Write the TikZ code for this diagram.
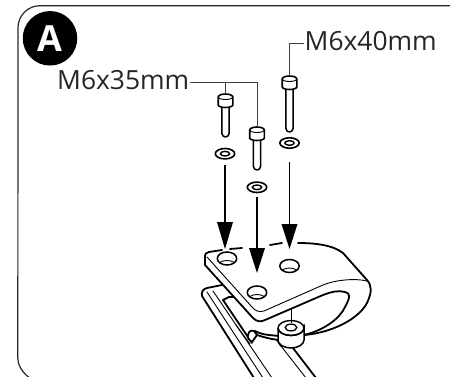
\documentclass[tikz,border=0pt]{standalone}
\usepackage{fontspec}
\setmainfont{Open Sans}
\tikzset{
  px/.style={x=1pt,y=-1pt},
  heavy/.style={line width=1.8pt,line join=round,line cap=round},
  thin1/.style={line width=0.9pt,line join=round,line cap=round},
  leader/.style={line width=0.75pt,draw=black!75},
  shaft/.style={line width=1.8pt},
  head/.style={fill=black,draw=none},
  lab/.style={font=\fontsize{26.4}{27}\selectfont,text=black!85,inner sep=0pt,anchor=base west}
}
\newcommand{\bolt}[3]{%
  \begin{scope}[shift={(#1,#2)}]
    \draw[line width=1.5pt,fill=white,line join=round] (-3.6,10) -- (-3.6,#3-3.6) arc[start angle=180,end angle=0,radius=3.6] -- (3.6,10);
    \draw[line width=1.6pt,fill=white,line join=round] (-7.3,3) arc[start angle=180,end angle=360,x radius=7.3,y radius=3] -- (7.3,11) arc[start angle=0,end angle=180,x radius=7.3,y radius=2.5] -- cycle;
    \draw[line width=0.9pt] (-7.3,3) arc[start angle=180,end angle=0,x radius=7.3,y radius=2.5];
  \end{scope}
}
\newcommand{\washer}[2]{%
  \draw[line width=1.6pt,fill=white] (#1,#2) ellipse[x radius=9.7,y radius=5.2];
  \draw[line width=1.4pt] (#1,#2) ellipse[x radius=4.6,y radius=2.3];
}
\newcommand{\hole}[2]{%
  \draw[line width=1.5pt,fill=white] (#1,#2) ellipse[x radius=9.7,y radius=6.5];
  \begin{scope}
    \clip (#1,#2) ellipse[x radius=9.7,y radius=6.5];
    \draw[line width=0.9pt] (#1,#2+7.5) ellipse[x radius=9,y radius=5.5];
  \end{scope}
}
\begin{document}
\begin{tikzpicture}[px]
\useasboundingbox (0,0) rectangle (450,377);
\clip (0,0) rectangle (450,377);
% frame
\draw[line width=1.2pt,draw=black!85] (450,5.7) -- (40,5.7) arc[start angle=270,end angle=180,radius=22] -- (17.8,358) .. controls (17.8,365) and (22,372) .. (29,377.5);
% badge
\node[circle,fill=black,minimum size=54.5pt,inner sep=0pt] (badge) at (50,38.3) {};
\node[font=\fontsize{36}{36}\selectfont\bfseries,text=white,inner sep=0pt] (badgeA) at (50,38.5) {A};
% labels
\node[lab] (m35) at (57,90) {M6x35mm};
\node[lab] (m40) at (304.5,51) {M6x40mm};
% bracket
\draw[heavy] (222,285) -- (207,288) .. controls (203,289) and (201,292) .. (202,296) -- (254,378);
\draw[thin1] (207,292) -- (263,378);
\draw[thin1] (213,291) -- (272,378);
\draw[heavy] (241,297) -- (229,297) -- (223,300) -- (252,343);
\draw[thin1] (236,325) -- (250,344);
% lip
\draw[heavy,fill=white] (252,342) .. controls (249,340) and (247,337) .. (248,335) .. controls (249,331) and (251,330) .. (254,331) -- (257,335) -- cycle;
\draw[heavy] (255,331) .. controls (262,335) and (270,335) .. (279,336);
\draw[heavy] (257,335) .. controls (263,337) and (270,339) .. (279,340);
% rails under the nut
\draw[heavy] (277,340) -- (281,346);
\draw[thin1] (281,346) -- (306,378);
\draw[heavy] (293,348) -- (316,378);
% clamp plate
\fill[white] (208,252) -- (298,243) .. controls (315,243) and (333,245) .. (343,253) -- (367,280) .. controls (372,286) and (372,292) .. (367,303) .. controls (358,320) and (330,333) .. (304,335) .. controls (325,330) and (340,318) .. (345,307) .. controls (350,298) and (351,293) .. (345,292) .. controls (338,290) and (331,292) .. (323,295) -- (265,320) .. controls (261,322) and (257,322) .. (253,318) -- (205,265) -- (205,255) -- cycle;
\draw[heavy] (222,250) -- (209,252) .. controls (206,252.5) and (205,254) .. (205,256) -- (205,265) -- (253,318) .. controls (257,322) and (261,322) .. (265,320) -- (323,295) .. controls (331,292) and (338,290) .. (345,292) .. controls (351,293) and (350,298) .. (345,307) .. controls (340,318) and (325,330) .. (304,335);
\draw[heavy] (298,243) .. controls (315,243) and (333,245) .. (343,253) -- (367,280) .. controls (372,286) and (372,292) .. (367,303) .. controls (358,320) and (330,333) .. (304,335);
\draw[heavy] (230,249) -- (242,248);
\draw[heavy] (270,245) -- (282,243);
\draw[thin1] (207,257) -- (252,307) .. controls (256,312) and (260,312) .. (264,311) -- (323,285) .. controls (335,280) and (355,278) .. (367,281);
\hole{227}{258.5}
\hole{289.5}{266}
\hole{257}{292.5}
% nut
\draw[line width=1pt] (291,308) -- (291,323);
\draw[line width=1.5pt,fill=white] (278,328) -- (278,340) arc[start angle=180,end angle=0,x radius=13,y radius=8] -- (304,328) arc[start angle=0,end angle=180,x radius=13,y radius=7.5];
\draw[line width=1.4pt] (291,328) ellipse[x radius=13,y radius=7.5];
\draw[line width=1.3pt] (291,327.5) ellipse[x radius=5.8,y radius=3.4];
% bolts
\bolt{225.5}{94}{43}
\bolt{257}{127}{43}
\bolt{289.5}{76}{56}
% washers
\washer{225}{153.7}
\washer{257}{187.3}
\washer{289.5}{143}
% arrows
\coordinate (a1s) at (225,165); \coordinate (a1) at (225,249);
\coordinate (a2s) at (257,197); \coordinate (a2) at (257,273);
\coordinate (a3s) at (289.5,162); \coordinate (a3) at (289.5,249);
\draw[shaft] (a1s) -- (225,225);
\fill[head] (217,222) -- (233,222) -- (a1) -- cycle;
\draw[shaft] (a2s) -- (257,250);
\fill[head] (249,248) -- (265,248) -- (a2) -- cycle;
\draw[shaft] (a3s) -- (289.5,226);
\fill[head] (281.5,224) -- (297.5,224) -- (a3) -- cycle;
% leaders
\draw[leader] (m35.base east) ++(1,-7.5) -- (257,82.5) -- (257,127);
\draw[leader] (225.5,82.5) -- (225.5,94);
\draw[leader] (m40.base west) ++(-0.5,-8) -- (289.5,43) -- (289.5,76);
\end{tikzpicture}
\end{document}
